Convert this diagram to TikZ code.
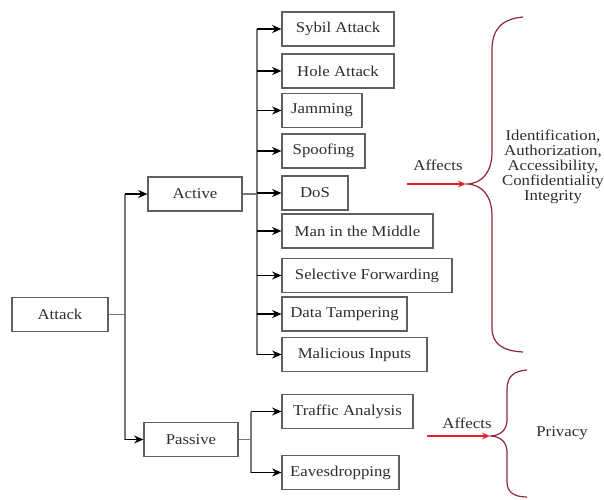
\documentclass[tikz,border=0pt]{standalone}
\usepackage{fontspec}
\setmainfont{Liberation Serif}[FakeStretch=1.12]
\usetikzlibrary{arrows.meta}
\definecolor{boxline}{RGB}{95,95,95}
\definecolor{trunkgray}{RGB}{120,120,120}
\definecolor{txt}{RGB}{45,45,45}
\definecolor{affred}{RGB}{225,35,45}
\definecolor{bracered}{RGB}{140,40,55}
\tikzset{
  box/.style={draw=boxline, line width=0.8pt, minimum height=25.5pt, inner sep=0pt,
    text=txt, font=\fontsize{11.25}{11.25}\selectfont},
  trunk/.style={draw=trunkgray, line width=0.8pt},
  stem/.style={draw=black, line width=1pt, -{Stealth[length=7pt,width=6pt]}},
  affarrow/.style={draw=affred, line width=1.3pt, -{Stealth[length=6pt,width=5pt]}},
  bracepath/.style={draw=bracered, line width=0.9pt},
  lbl/.style={text=txt, font=\fontsize{11.25}{11.25}\selectfont, inner sep=0pt}
}
\begin{document}
\begin{tikzpicture}[x=0.75pt,y=-0.75pt]
\useasboundingbox (0,0) rectangle (604,500);

% boxes
\node[box, minimum width=72pt]    (attack)  at (60,314.5)  {Attack};
\node[box, minimum width=70.5pt]  (active)  at (195,194)   {Active};
\node[box, minimum width=70.5pt]  (passive) at (191,439.5) {Passive};

\node[box, minimum width=84pt]     (sybil) at (338,29)    {Sybil Attack};
\node[box, minimum width=84pt]     (hole)  at (338,71)    {Hole Attack};
\node[box, minimum width=60pt]     (jam)   at (322,110.5) {Jamming};
\node[box, minimum width=62.25pt]  (spoof) at (323.5,151) {Spoofing};
\node[box, minimum width=49.5pt]   (dos)   at (315,193)   {DoS};
\node[box, minimum width=113.25pt] (mitm)  at (357.5,231) {Man in the Middle};
\node[box, minimum width=127.5pt]  (self)  at (367,275.5) {Selective Forwarding};
\node[box, minimum width=93.75pt]  (tamp)  at (344.5,314) {Data Tampering};
\node[box, minimum width=108.75pt] (mal)   at (354.5,354.5) {Malicious Inputs};

\node[box, minimum width=98.25pt]  (traffic) at (347.5,411.5) {Traffic Analysis};
\node[box, minimum width=87.75pt]  (eaves)   at (340.5,472.5) {Eavesdropping};

% junction points of the tree
\coordinate (jA) at (125,314.5);
\coordinate (jB) at (257,194);
\coordinate (jC) at (251,439.5);

% Attack -> Active / Passive
\draw[trunk] (attack.east) -- (jA);
\draw[trunk] (jA |- active.west) -- (jA |- passive.west);
\draw[stem] (jA |- active.west) -- (active.west);
\draw[stem] (jA |- passive.west) -- (passive.west);

% Active -> active attacks
\draw[trunk] (active.east) -- (jB);
\draw[trunk] (jB |- sybil.west) -- (jB |- mal.west);
\foreach \n in {sybil,hole,jam,spoof,dos,mitm,self,tamp,mal}
  \draw[stem] (jB |- \n.west) -- (\n.west);

% Passive -> passive attacks
\draw[trunk] (passive.east) -- (jC);
\draw[trunk] (jC |- traffic.west) -- (jC |- eaves.west);
\draw[stem] (jC |- traffic.west) -- (traffic.west);
\draw[stem] (jC |- eaves.west) -- (eaves.west);

% security properties affected by active attacks
\coordinate (s1) at (407,184);
\coordinate (t1) at (466,184);
\draw[affarrow] (s1) -- (t1);
\node[lbl] (aff1) at (438,165) {Affects};
\draw[bracepath] (523,17) .. controls (501,19) and (492,30) .. (492,50)
  -- (492,152) .. controls (492,172) and (482,184) .. (466,184)
  .. controls (482,184) and (492,196) .. (492,216)
  -- (492,328) .. controls (492,344) and (503,351) .. (523,352);
\node[lbl, align=center] (props) at (553,167)
  {Identification,\\Authorization,\\Accessibility,\\Confidentiality\\Integrity};

% property affected by passive attacks
\coordinate (s2) at (427,436);
\coordinate (t2) at (490,436);
\draw[affarrow] (s2) -- (t2);
\node[lbl] (aff2) at (467,423) {Affects};
\draw[bracepath] (527,370) .. controls (513,371) and (507,377) .. (507,390)
  -- (507,420) .. controls (507,430) and (500,436) .. (490,436)
  .. controls (500,436) and (507,442) .. (507,452)
  -- (507,482) .. controls (507,492) and (514,497) .. (527,497);
\node[lbl] (priv) at (562,433) {Privacy};
\end{tikzpicture}
\end{document}
